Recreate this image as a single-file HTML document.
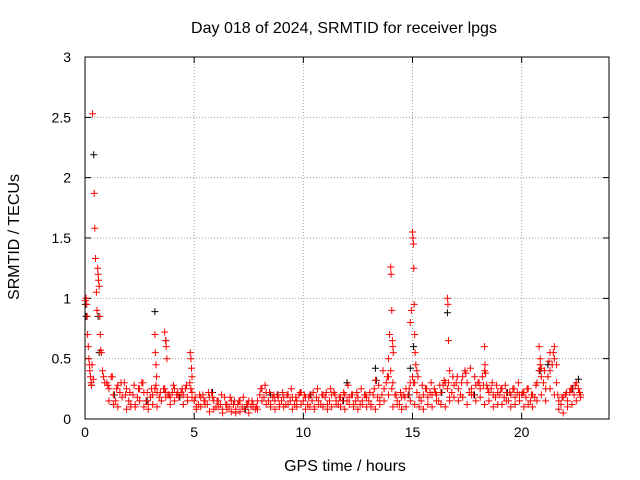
<!DOCTYPE html>
<html><head><meta charset="utf-8"><style>
body{margin:0;background:#fff;}
svg{display:block;font-family:"Liberation Sans",sans-serif;}
</style></head><body>
<svg id="chart" width="640" height="480">
<rect x="0" y="0" width="640" height="480" fill="#fff"/>
<text x="344" y="33" text-anchor="middle" font-size="16">Day 018 of 2024, SRMTID for receiver lpgs</text>
<text x="345" y="471" text-anchor="middle" font-size="16">GPS time / hours</text>
<text transform="translate(19,237) rotate(-90)" text-anchor="middle" font-size="16">SRMTID / TECUs</text>
<g id="grid"></g><g id="ticks"></g><g id="marks"></g>
<rect x="85" y="57" width="524" height="362" fill="none" stroke="#000" stroke-width="1"/>
</svg>
<script>
const xTicks=[0,5,10,15,20];
const yTicks=[0,0.5,1,1.5,2,2.5,3];
const yTickLabels=["0","0.5","1","1.5","2","2.5","3"];
const baseStart=1.0, baseStep=0.1;
const baseV=[.30,.25,.35,.20,.15,.28,.22,.18,.30,.25,
.15,.12,.20,.10,.18,.25,.30,.22,.15,.12,
.18,.20,.25,.22,.18,.15,.25,.22,.20,.18,
.22,.25,.20,.18,.22,.20,.25,.18,.30,.22,
.15,.10,.12,.18,.20,.15,.12,.18,.22,.15,
.10,.15,.12,.08,.18,.12,.10,.15,.12,.08,
.12,.15,.10,.08,.12,.15,.10,.12,.08,.15,
.20,.25,.18,.22,.15,.12,.18,.15,.20,.12,
.15,.18,.12,.20,.15,.18,.12,.15,.20,.22,
.15,.18,.12,.20,.15,.10,.18,.15,.12,.20,
.18,.12,.15,.20,.22,.15,.12,.18,.15,.20,
.15,.18,.20,.12,.15,.18,.12,.15,.20,.18,
.15,.12,.20,.32,.18,.15,.20,.25,.30,.35,
.40,.30,.20,.15,.12,.18,.20,.25,.20,.30,
.35,.30,.22,.18,.15,.20,.25,.18,.22,.20,
.25,.20,.15,.22,.28,.30,.25,.18,.22,.28,
.30,.25,.20,.35,.40,.30,.22,.25,.20,.28,
.30,.25,.35,.40,.28,.22,.25,.20,.18,.22,
.20,.25,.18,.22,.15,.20,.25,.18,.22,.20,
.20,.22,.18,.25,.15,.20,.18,.30,.40,.35,
.30,.25,.35,.40,.45,.50,.30,.15,.12,.18,
.20,.15,.22,.25,.20,.30,.25,.18];
const loStart=1.1, loStep=0.2;
const baseLo=[.15,.12,.10,.18,.08,.10,.12,.15,.10,.08,
.12,.10,.15,.18,.12,.15,.18,.12,.15,.18,
.08,.10,.12,.06,.08,.10,.05,.08,.06,.05,
.06,.08,.05,.10,.08,.15,.12,.10,.08,.10,
.10,.12,.08,.10,.12,.08,.10,.08,.12,.10,
.08,.10,.12,.10,.08,.12,.10,.08,.12,.10,
.10,.08,.12,.15,.20,.10,.12,.08,.10,.15,
.12,.10,.08,.12,.10,.15,.12,.10,.15,.18,
.15,.18,.12,.20,.15,.18,.12,.15,.10,.12,
.12,.15,.10,.12,.15,.10,.12,.10,.15,.20,
.15,.25,.20,.08,.05,.10,.12,.15,.20];
const midStart=1.05, midStep=0.2;
const baseMid=[.28,.35,.25,.30,.20,.22,.28,.25,.30,.22,
.25,.28,.22,.25,.20,.28,.22,.25,.28,.25,
.18,.20,.15,.22,.18,.15,.20,.12,.18,.15,
.15,.18,.12,.15,.10,.25,.28,.22,.20,.18,
.22,.20,.25,.18,.22,.20,.18,.22,.25,.20,
.22,.25,.20,.18,.22,.28,.20,.22,.25,.20,
.22,.25,.28,.40,.35,.25,.20,.22,.18,.25,
.30,.35,.28,.25,.30,.22,.28,.32,.30,.35,
.35,.30,.38,.42,.35,.30,.28,.25,.30,.28,
.25,.28,.22,.25,.30,.22,.25,.20,.28,.45,
.40,.48,.55,.20,.18,.22,.25,.28,.22];
const spikeT=[.02,.05,.08,.1,.12,.15,.18,.2,.22,.25,.28,.3,.32,.35,.38,.42,.45,.48,.52,.55,.58,.6,.62,.65,.68,.7,.72,.75,.8,.85,.9,
3.2,3.22,3.25,3.28,3.65,3.7,3.72,3.75,4.82,4.85,4.88,4.9,
13.9,13.95,14.0,14.02,14.05,14.08,14.1,14.12,14.9,14.95,15.0,15.02,15.04,15.06,15.08,15.1,15.12,15.15,15.2,
16.6,16.62,16.65,16.7,18.3,18.32,18.35,20.8,20.85,20.9,21.3,21.5,21.6];
const spikeV=[.98,1.0,.95,.85,.7,.6,.5,.45,.4,.35,.3,.28,.45,2.53,.33,1.87,1.58,1.33,1.05,.9,1.25,1.2,1.15,1.1,.85,.7,.57,.55,.4,.35,.3,
.7,.55,.45,.35,.72,.65,.6,.5,.55,.5,.42,.35,
.5,.7,1.26,1.2,.9,.65,.6,.55,.8,.9,1.55,1.5,1.45,1.25,.95,.7,.55,.45,.4,
1.0,.95,.65,.4,.6,.45,.38,.6,.5,.42,.55,.6,.45];
const blackT=[.02,.05,.4,.6,.65,3.2,3.7,13.3,14.9,15.05,16.6,21.2,22.6,.3,8.5,12];
const blackV=[.95,.85,2.19,.85,.55,.89,.65,.42,.42,.6,.88,.45,.33,.28,.2,.3];

const X0=85,X1=609,Y0=419,Y1=57,XMAX=24,YMAX=3;
const sx=t=>X0+t/XMAX*(X1-X0);
const sy=v=>Y0-v/YMAX*(Y0-Y1);
const NS="http://www.w3.org/2000/svg";
const grid=document.getElementById('grid'),ticks=document.getElementById('ticks'),marks=document.getElementById('marks');
function mk(tag,attrs,parent){const e=document.createElementNS(NS,tag);for(const k in attrs)e.setAttribute(k,attrs[k]);parent.appendChild(e);return e;}
xTicks.forEach(t=>{const x=sx(t);
 if(t>0){const g=mk('line',{x1:x,x2:x,y1:Y0,y2:Y1,stroke:'#a0a0a0','stroke-dasharray':'1,2'},grid);
 
 }
 const tk=mk('path',{d:`M${x} ${Y0}v-6M${x} ${Y1}v6`,stroke:'#000'},ticks);
 
 
 const l=mk('text',{x:x,y:Y0+18,'text-anchor':'middle','font-size':'14'},ticks);l.textContent=t;
 
 });
yTicks.forEach((v,i)=>{const y=sy(v);
 if(v>0&&v<YMAX){const g=mk('line',{x1:X0,x2:X1,y1:y,y2:y,stroke:'#a0a0a0','stroke-dasharray':'1,2'},grid);
 
 }
 const tk=mk('path',{d:`M${X0} ${y}h6M${X1} ${y}h-6`,stroke:'#000'},ticks);
 
 
 const l=mk('text',{x:X0-14,y:y+5,'text-anchor':'end','font-size':'14'},ticks);l.textContent=yTickLabels[i];
 
 });
function plus(t,v){const x=sx(t),y=sy(v);return `M${(x-3.5).toFixed(1)} ${y.toFixed(1)}h7M${x.toFixed(1)} ${(y-3.5).toFixed(1)}v7`;}
let dBlack='';
blackT.forEach((t,i)=>{dBlack+=plus(t,blackV[i]);});
baseV.forEach((v,i)=>{if(i%15===3)dBlack+=plus(baseStart+i*baseStep+0.04,v);});
const pb=mk('path',{d:dBlack,stroke:'#000','stroke-width':'1',fill:'none'},marks);


let dRed='';
baseV.forEach((v,i)=>{dRed+=plus(baseStart+i*baseStep,v);});
baseLo.forEach((v,i)=>{dRed+=plus(loStart+i*loStep,v);});
baseMid.forEach((v,i)=>{dRed+=plus(midStart+i*midStep,v);});
spikeT.forEach((t,i)=>{dRed+=plus(t,spikeV[i]);});
const pr=mk('path',{d:dRed,stroke:'#ff0000','stroke-width':'1',fill:'none'},marks);


</script>
</body></html>
